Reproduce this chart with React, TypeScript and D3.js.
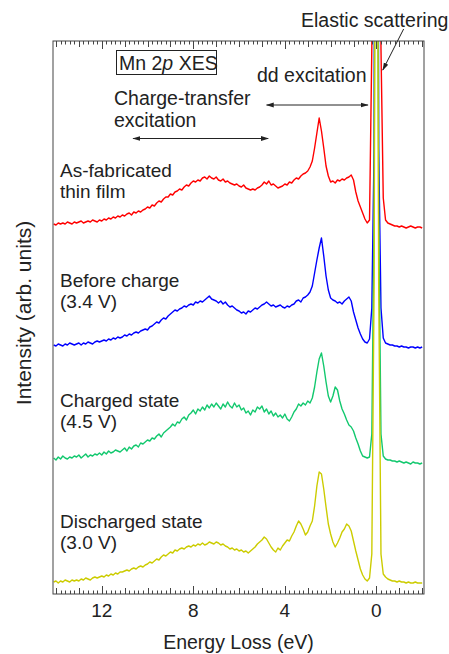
import React, { useEffect, useRef } from 'react';
import * as d3 from 'd3';

// energy loss grid (eV), 14.1 down to -2.0 in 0.1 steps
const energyLoss = d3.range(141, -21, -1).map((v) => v / 10);

// intensities (arb. units, above each spectrum's offset)
const asFabricated = [
  4, 3, 5, 4, 5, 4, 6, 5, 4, 6,
  5, 6, 7, 5, 6, 7, 6, 8, 7, 6,
  8, 7, 9, 8, 10, 9, 11, 10, 12, 11,
  13, 12, 14, 15, 13, 16, 15, 17, 16, 18,
  19, 21, 20, 23, 22, 25, 27, 26, 29, 31,
  31, 34, 33, 36, 37, 39, 38, 41, 43, 42,
  45, 47, 46, 48, 47, 50, 51, 49, 52, 50,
  49, 51, 48, 47, 49, 46, 47, 45, 44, 43,
  44, 42, 41, 43, 40, 39, 38, 39, 38, 40,
  41, 43, 46, 44, 47, 43, 44, 42, 40, 41,
  42, 44, 43, 46, 45, 48, 50, 49, 52, 54,
  55, 57, 61, 67, 80, 95, 110, 97, 80, 62,
  52, 46, 47, 45, 48, 47, 49, 48, 50, 51,
  53, 48, 36, 27, 21, 15, 9, 5, 8, 180,
  1200, 1500, 1200, 180, 30, 8, 5, 4, 3, 2,
  2, 1, 2, 1, 0, 1, 2, 1, 0, 1,
  1, 0,
];

const beforeCharge = [
  3, 2, 4, 3, 2, 4, 3, 5, 4, 3,
  4, 5, 3, 5, 4, 6, 5, 4, 6, 7,
  6, 7, 8, 7, 9, 8, 10, 9, 11, 10,
  11, 13, 12, 14, 13, 15, 16, 15, 17, 18,
  19, 18, 21, 22, 24, 26, 25, 28, 30, 29,
  32, 34, 36, 38, 37, 39, 40, 42, 41, 43,
  44, 43, 46, 45, 47, 46, 48, 50, 52, 49,
  48, 47, 45, 47, 44, 46, 43, 41, 42, 40,
  38, 37, 35, 36, 34, 37, 36, 38, 40, 39,
  41, 43, 44, 46, 44, 42, 43, 41, 42, 43,
  41, 40, 42, 41, 43, 44, 47, 48, 46, 50,
  51, 53, 56, 62, 75, 88, 100, 110, 92, 72,
  58, 50, 48, 47, 45, 46, 44, 47, 49, 51,
  47, 36, 28, 20, 14, 9, 6, 5, 9, 40,
  200, 1300, 200, 40, 10, 5, 4, 3, 3, 2,
  2, 1, 2, 1, 1, 0, 1, 1, 0, 1,
  0, 1,
];

const chargedState = [
  6, 4, 7, 5, 8, 6, 5, 7, 6, 8,
  7, 9, 6, 8, 10, 7, 9, 8, 10, 9,
  11, 9, 12, 10, 13, 11, 12, 14, 13, 12,
  14, 16, 13, 17, 15, 18, 19, 17, 21, 20,
  22, 24, 23, 26, 25, 28, 30, 27, 31, 33,
  35, 37, 40, 38, 42, 41, 45, 47, 44, 49,
  51, 54, 50, 55, 53, 57, 54, 59, 56, 60,
  57, 61, 58, 55, 60, 57, 62, 58, 56, 61,
  57, 59, 54, 56, 51, 53, 49, 54, 52, 57,
  55, 58, 52, 55, 50, 53, 48, 51, 47, 49,
  46, 50, 45, 43, 47, 52, 55, 60, 58, 61,
  59, 63, 61, 66, 77, 92, 105, 111, 98, 82,
  68, 62, 68, 77, 74, 63, 55, 50, 44, 39,
  37, 33, 26, 20, 13, 8, 7, 6, 7, 30,
  250, 1200, 250, 30, 8, 5, 4, 4, 3, 3,
  2, 3, 2, 1, 2, 1, 0, 2, 1, 1,
  0, 1,
];

const dischargedState = [
  2, 3, 1, 3, 2, 4, 3, 2, 4, 3,
  4, 3, 5, 4, 6, 5, 4, 6, 7, 6,
  7, 8, 7, 9, 8, 10, 9, 11, 10, 12,
  12, 13, 14, 13, 15, 16, 15, 17, 18, 17,
  19, 20, 22, 21, 23, 25, 24, 27, 29, 28,
  30, 32, 31, 34, 33, 35, 36, 35, 37, 38,
  37, 39, 38, 40, 39, 41, 39, 40, 42, 41,
  40, 42, 41, 39, 40, 38, 37, 35, 36, 34,
  35, 33, 34, 32, 33, 31, 33, 35, 37, 40,
  42, 44, 47, 45, 41, 37, 34, 32, 36, 34,
  38, 41, 44, 43, 48, 52, 58, 63, 60, 55,
  49, 52, 58, 63, 78, 98, 112, 110, 95, 77,
  60, 50, 42, 37, 41, 46, 52, 55, 60, 58,
  53, 43, 33, 24, 15, 9, 5, 3, 6, 30,
  300, 1100, 300, 30, 10, 7, 5, 4, 3, 3,
  2, 3, 2, 2, 1, 2, 1, 1, 2, 1,
  1, 1,
];

const seriesLabels = [
  ['As-fabricated', 'thin film'],
  ['Before charge', '(3.4 V)'],
  ['Charged state', '(4.5 V)'],
  ['Discharged state', '(3.0 V)'],
];
const seriesOffsets = [366, 246, 130, 10];
const seriesColors = ['#ff0000', '#0000ff', '#12c86e', '#cccc00'];

const majorTicks = [12, 8, 4, 0];

export default function App() {
  const ref = useRef<SVGSVGElement>(null);

  useEffect(() => {
    const svg = d3.select(ref.current);
    svg.selectAll('*').remove();

    const plot = { left: 53, right: 424, top: 41, bottom: 594 };
    const font = '"Liberation Sans", Arial, sans-serif';
    const ink = '#222';
    const fs = 19.5;

    const x = d3.scaleLinear().domain([14.13, -2.08]).range([plot.left, plot.right]);
    const y = d3.scaleLinear().domain([0, 553]).range([plot.bottom, plot.top]);

    const defs = svg.append('defs');
    defs.append('clipPath').attr('id', 'plot-clip')
      .append('rect')
      .attr('x', plot.left).attr('y', plot.top)
      .attr('width', plot.right - plot.left).attr('height', plot.bottom - plot.top);

    defs.append('marker')
      .attr('id', 'arrow-head')
      .attr('viewBox', '0 0 10 10')
      .attr('refX', 9).attr('refY', 5)
      .attr('markerWidth', 8).attr('markerHeight', 8)
      .attr('markerUnits', 'userSpaceOnUse')
      .attr('orient', 'auto-start-reverse')
      .append('path')
      .attr('d', 'M0,2 L10,5 L0,8 Z')
      .attr('fill', ink);

    // spectra
    const spectra = [asFabricated, beforeCharge, chargedState, dischargedState];
    const lines = svg.append('g').attr('clip-path', 'url(#plot-clip)');
    spectra.forEach((vals, k) => {
      const line = d3.line<number>()
        .x((d, i) => x(energyLoss[i]))
        .y((d) => y(d + seriesOffsets[k]));
      lines.append('path')
        .datum(vals)
        .attr('fill', 'none')
        .attr('stroke', seriesColors[k])
        .attr('stroke-width', 1.4)
        .attr('stroke-linejoin', 'round')
        .attr('d', line);
    });

    // frame
    svg.append('rect')
      .attr('x', plot.left).attr('y', plot.top)
      .attr('width', plot.right - plot.left).attr('height', plot.bottom - plot.top)
      .attr('fill', 'none').attr('stroke', '#444').attr('stroke-width', 1);

    // ticks, inward on top and bottom
    const tickVals = d3.range(-20, 142, 2).map((i) => i / 10).filter((v) => x(v) >= plot.left && x(v) <= plot.right);
    const tickLen = (v: number) => (majorTicks.includes(v) ? 8 : Number.isInteger(v) ? 6 : 3.5);
    const ticks = svg.append('g').attr('stroke', '#444').attr('stroke-width', 1);
    tickVals.forEach((v) => {
      const px = Math.round(x(v)) + 0.5;
      ticks.append('line').attr('x1', px).attr('x2', px)
        .attr('y1', plot.bottom).attr('y2', plot.bottom - tickLen(v));
      ticks.append('line').attr('x1', px).attr('x2', px)
        .attr('y1', plot.top).attr('y2', plot.top + tickLen(v));
    });

    svg.append('g').selectAll('text')
      .data(majorTicks)
      .join('text')
      .attr('x', (d) => x(d))
      .attr('y', 617)
      .attr('text-anchor', 'middle')
      .attr('font-family', font).attr('font-size', 19).attr('fill', ink)
      .text((d) => d);

    // axis titles
    svg.append('text')
      .attr('x', (plot.left + plot.right) / 2).attr('y', 649)
      .attr('text-anchor', 'middle')
      .attr('font-family', font).attr('font-size', fs).attr('fill', ink)
      .text('Energy Loss (eV)');

    svg.append('text')
      .attr('transform', 'translate(31,313) rotate(-90)')
      .attr('text-anchor', 'middle')
      .attr('font-family', font).attr('font-size', 21).attr('fill', ink)
      .text('Intensity (arb. units)');

    // spectrum labels
    const labelY = [[177, 198], [287, 308], [407, 428], [528, 549]];
    seriesLabels.forEach((pair, k) => {
      pair.forEach((t, j) => {
        svg.append('text')
          .attr('x', 60).attr('y', labelY[k][j])
          .attr('font-family', font).attr('font-size', 19).attr('fill', ink)
          .text(t);
      });
    });

    // Mn 2p XES box
    svg.append('rect')
      .attr('x', 116.5).attr('y', 50.5).attr('width', 100).attr('height', 24)
      .attr('fill', 'white').attr('stroke', ink).attr('stroke-width', 1);
    const box = svg.append('text')
      .attr('x', 119).attr('y', 69.5)
      .attr('font-family', font).attr('font-size', fs).attr('fill', ink);
    box.append('tspan').text('Mn 2');
    box.append('tspan').attr('font-style', 'italic').text('p');
    box.append('tspan').text(' XES');

    // annotations
    svg.append('text')
      .attr('x', 114).attr('y', 105)
      .attr('font-family', font).attr('font-size', fs).attr('fill', ink)
      .text('Charge-transfer');
    svg.append('text')
      .attr('x', 114).attr('y', 127)
      .attr('font-family', font).attr('font-size', fs).attr('fill', ink)
      .text('excitation');
    svg.append('line')
      .attr('x1', x(10.63)).attr('x2', x(4.73))
      .attr('y1', y(455.5)).attr('y2', y(455.5))
      .attr('stroke', ink).attr('stroke-width', 1)
      .attr('marker-start', 'url(#arrow-head)').attr('marker-end', 'url(#arrow-head)');

    svg.append('text')
      .attr('x', 257).attr('y', 82)
      .attr('font-family', font).attr('font-size', fs).attr('fill', ink)
      .text('dd excitation');
    svg.append('line')
      .attr('x1', x(4.8)).attr('x2', x(0.37))
      .attr('y1', y(489)).attr('y2', y(489))
      .attr('stroke', ink).attr('stroke-width', 1)
      .attr('marker-start', 'url(#arrow-head)').attr('marker-end', 'url(#arrow-head)');

    svg.append('text')
      .attr('x', 301).attr('y', 27)
      .attr('font-family', font).attr('font-size', fs).attr('fill', ink)
      .text('Elastic scattering');
    svg.append('line')
      .attr('x1', x(-1.19)).attr('y1', 29)
      .attr('x2', x(-0.28)).attr('y2', y(524))
      .attr('stroke', ink).attr('stroke-width', 1)
      .attr('marker-end', 'url(#arrow-head)');
  }, []);

  return (
    <div style={{ position: 'absolute', left: 0, top: 0 }}>
      <svg ref={ref} width={449} height={654} style={{ display: 'block', background: 'white' }} />
    </div>
  );
}
